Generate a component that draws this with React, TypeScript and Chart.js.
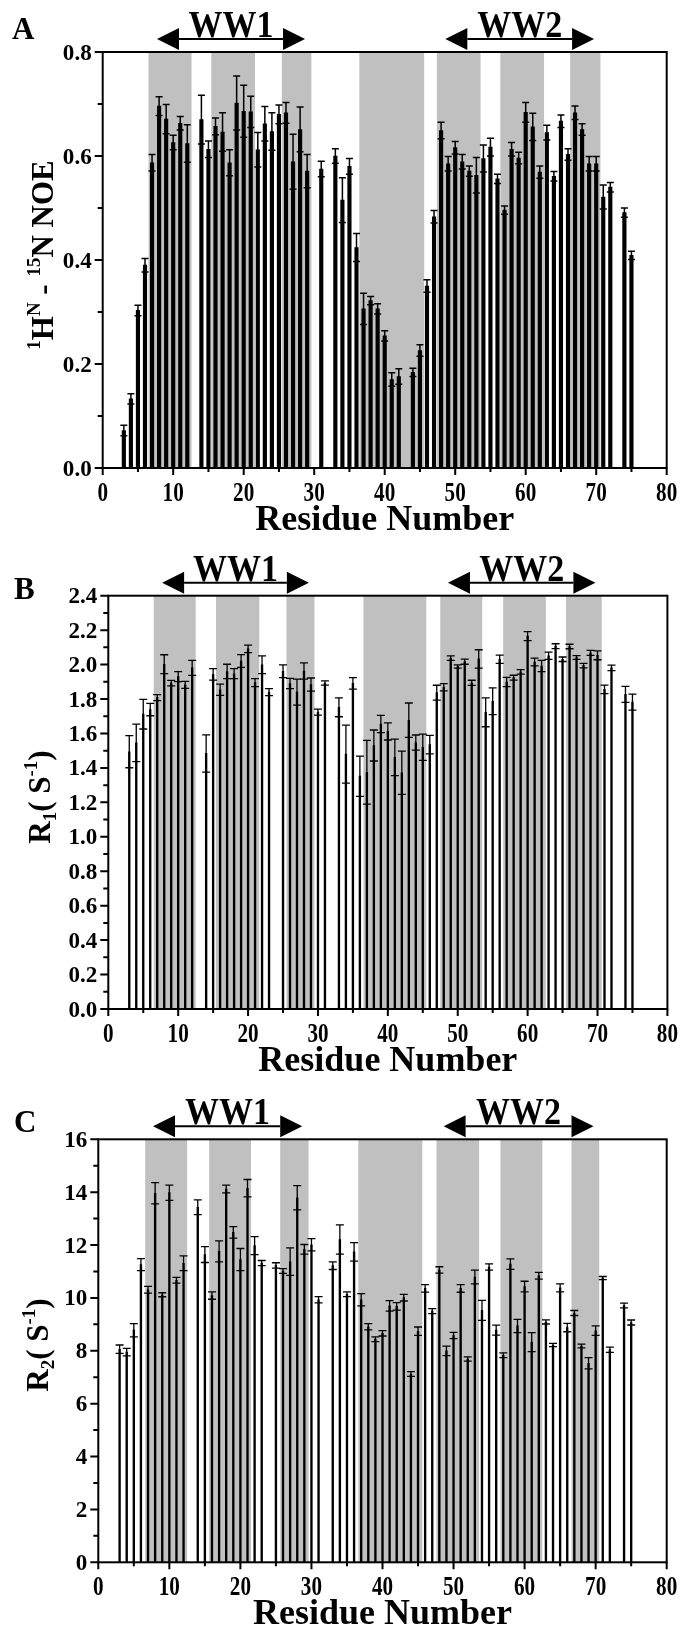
import React, { useEffect, useRef } from 'react';
import { Chart, registerables } from 'chart.js';

Chart.register(...registerables);

const FONT = '"Liberation Serif", "Times New Roman", serif';

// ---------- Data ----------
const residuesA = [3,4,5,6,7,8,9,10,11,12,14,15,16,17,18,19,20,21,22,23,24,25,26,27,28,29,31,33,34,35,36,37,38,39,40,41,42,44,45,46,47,48,49,50,51,52,53,54,55,56,57,58,59,60,61,62,63,64,65,66,67,68,69,70,71,72,74,75];
const noeValues = [0.072,0.133,0.303,0.39,0.587,0.696,0.671,0.626,0.663,0.624,0.67,0.613,0.657,0.646,0.587,0.702,0.686,0.685,0.612,0.662,0.647,0.68,0.683,0.589,0.651,0.571,0.575,0.6,0.515,0.58,0.424,0.306,0.322,0.306,0.254,0.17,0.176,0.184,0.226,0.35,0.483,0.649,0.585,0.616,0.589,0.571,0.563,0.595,0.617,0.556,0.496,0.613,0.596,0.684,0.656,0.569,0.645,0.561,0.667,0.603,0.683,0.651,0.585,0.585,0.521,0.54,0.491,0.409];
const noeErrors = [0.01,0.01,0.01,0.013,0.016,0.018,0.028,0.014,0.013,0.036,0.047,0.016,0.016,0.037,0.025,0.052,0.05,0.03,0.033,0.033,0.036,0.018,0.02,0.053,0.043,0.032,0.015,0.014,0.043,0.015,0.027,0.03,0.008,0.01,0.01,0.013,0.015,0.008,0.011,0.012,0.012,0.016,0.014,0.012,0.014,0.01,0.034,0.026,0.017,0.009,0.008,0.013,0.011,0.019,0.026,0.012,0.014,0.009,0.012,0.011,0.013,0.011,0.014,0.014,0.023,0.009,0.009,0.008];

const residuesBC = [3,4,5,6,7,8,9,10,11,12,14,15,16,17,18,19,20,21,22,23,25,26,27,28,29,30,31,33,34,35,36,37,38,39,40,41,42,43,44,45,46,47,48,49,50,51,52,53,54,55,56,57,58,59,60,61,62,63,64,65,66,67,68,69,70,71,72,74,75];
const r1Values = [1.494,1.545,1.712,1.739,1.808,2.002,1.892,1.93,1.882,1.981,1.484,1.943,1.854,1.96,1.947,2.021,2.091,1.895,1.999,1.84,1.961,1.89,1.84,1.963,1.884,1.724,1.893,1.752,1.48,1.891,1.352,1.375,1.53,1.655,1.612,1.461,1.372,1.677,1.547,1.52,1.535,1.837,1.868,2.037,1.989,2.017,1.894,2.033,1.723,1.787,2.031,1.899,1.924,1.958,2.165,2.015,1.992,2.051,2.107,2.031,2.105,2.041,1.994,2.068,2.054,1.856,1.981,1.827,1.782];
const r1Errors = [0.093,0.109,0.086,0.036,0.017,0.055,0.016,0.029,0.02,0.044,0.108,0.033,0.033,0.042,0.029,0.037,0.022,0.023,0.052,0.02,0.037,0.03,0.076,0.047,0.038,0.017,0.012,0.055,0.168,0.033,0.117,0.185,0.09,0.05,0.05,0.106,0.126,0.1,0.044,0.076,0.054,0.043,0.021,0.013,0.009,0.015,0.015,0.053,0.084,0.078,0.024,0.027,0.014,0.013,0.026,0.023,0.033,0.021,0.014,0.013,0.013,0.011,0.013,0.015,0.026,0.025,0.016,0.046,0.046];
const r2Values = [8.06,7.95,8.78,11.26,10.31,13.96,10.12,13.98,10.67,11.31,13.43,11.64,10.09,11.76,14.12,12.48,11.45,14.15,11.98,11.32,11.23,11.02,11.37,13.79,11.84,12.01,9.93,11.22,12.21,10.14,11.74,9.93,8.91,8.44,8.66,9.7,9.68,10.01,7.12,8.74,10.36,9.5,11.06,8.0,8.58,10.36,7.69,10.79,9.53,11.17,8.78,7.83,11.28,8.94,10.43,8.33,10.84,9.09,8.22,10.38,8.88,9.43,8.18,7.53,8.76,10.75,8.04,9.71,9.07];
const r2Errors = [0.16,0.145,0.25,0.23,0.126,0.4,0.076,0.29,0.11,0.28,0.28,0.3,0.14,0.4,0.145,0.22,0.42,0.33,0.34,0.095,0.1,0.088,0.52,0.46,0.18,0.23,0.12,0.145,0.55,0.09,0.35,0.23,0.12,0.09,0.1,0.2,0.14,0.126,0.09,0.16,0.14,0.095,0.12,0.18,0.12,0.145,0.08,0.26,0.38,0.12,0.19,0.09,0.2,0.25,0.2,0.36,0.13,0.076,0.063,0.15,0.16,0.095,0.07,0.21,0.18,0.06,0.1,0.09,0.095];

// shaded secondary-structure regions (residue ranges)
const shadingA = [[6.5,12.6],[15.4,21.6],[25.4,29.6],[36.4,45.6],[47.4,53.6],[56.4,62.6],[66.3,70.6]];
const shadingB = [[6.5,12.5],[15.4,21.6],[25.5,29.5],[36.5,45.5],[47.5,53.5],[56.5,62.6],[65.5,70.6]];
const shadingC = [[6.6,12.5],[15.6,21.5],[25.6,29.6],[36.6,45.6],[47.6,53.6],[56.6,62.5],[66.6,70.5]];

// domain arrows (residue ranges)
const domainNames = ['WW1', 'WW2'];
const domainRanges = [[7.7, 28.7], [48.6, 69.7]];

// ticks
const xMajor = [0,10,20,30,40,50,60,70,80];
const xMinor = [5,15,25,35,45,55,65,75];
const xLabels = ['0','10','20','30','40','50','60','70','80'];
const yMajorA = [0,0.2,0.4,0.6,0.8];
const yMinorA = [0.1,0.3,0.5,0.7];
const yLabelsA = ['0.0','0.2','0.4','0.6','0.8'];
const yMajorB = [0,0.2,0.4,0.6,0.8,1.0,1.2,1.4,1.6,1.8,2.0,2.2,2.4];
const yMinorB = [0.1,0.3,0.5,0.7,0.9,1.1,1.3,1.5,1.7,1.9,2.1,2.3];
const yLabelsB = ['0.0','0.2','0.4','0.6','0.8','1.0','1.2','1.4','1.6','1.8','2.0','2.2','2.4'];
const yMajorC = [0,2,4,6,8,10,12,14,16];
const yMinorC = [1,3,5,7,9,11,13,15];
const yLabelsC = ['0','2','4','6','8','10','12','14','16'];

type Part = { t: string; s: number; dy: number };

const titleA: Part[] = [
  { t: '1', s: 19, dy: -13 },
  { t: 'H', s: 31, dy: 0 },
  { t: 'N', s: 19, dy: -13 },
  { t: ' - ', s: 31, dy: 0 },
  { t: '15', s: 19, dy: -13 },
  { t: 'N NOE', s: 31, dy: 0 },
];
const titleB: Part[] = [
  { t: 'R', s: 31, dy: 0 },
  { t: '1', s: 19, dy: 6 },
  { t: '( S', s: 31, dy: 0 },
  { t: '-1', s: 19, dy: -13 },
  { t: ')', s: 31, dy: 0 },
];
const titleC: Part[] = [
  { t: 'R', s: 31, dy: 0 },
  { t: '2', s: 19, dy: 6 },
  { t: '( S', s: 31, dy: 0 },
  { t: '-1', s: 19, dy: -13 },
  { t: ')', s: 31, dy: 0 },
];

type Panel = {
  letter: string;
  letterPos: [number, number];
  canvasTop: number;
  canvasHeight: number;
  plot: { left: number; right: number; top: number; bottom: number };
  residues: number[];
  values: number[];
  errors: number[];
  yMax: number;
  yMajor: number[];
  yMinor: number[];
  yLabels: string[];
  shading: number[][];
  solid: boolean;
  title: Part[];
  titleX: number;
  titleY: number;
  titleStretch: number;
};

const panels: Panel[] = [
  {
    letter: 'A', letterPos: [12, 39], canvasTop: 0, canvasHeight: 545,
    plot: { left: 102.7, right: 666.7, top: 52, bottom: 468 },
    residues: residuesA, values: noeValues, errors: noeErrors,
    yMax: 0.8, yMajor: yMajorA, yMinor: yMinorA, yLabels: yLabelsA,
    shading: shadingA, solid: true, title: titleA, titleX: 53, titleY: 255, titleStretch: 1.0,
  },
  {
    letter: 'B', letterPos: [14, 599], canvasTop: 545, canvasHeight: 545,
    plot: { left: 108.3, right: 667.4, top: 595.7, bottom: 1009 },
    residues: residuesBC, values: r1Values, errors: r1Errors,
    yMax: 2.4, yMajor: yMajorB, yMinor: yMinorB, yLabels: yLabelsB,
    shading: shadingB, solid: false, title: titleB, titleX: 50, titleY: 797, titleStretch: 1.0,
  },
  {
    letter: 'C', letterPos: [14, 1132], canvasTop: 1090, canvasHeight: 538,
    plot: { left: 98.3, right: 666.7, top: 1139.3, bottom: 1562.3 },
    residues: residuesBC, values: r2Values, errors: r2Errors,
    yMax: 16, yMajor: yMajorC, yMinor: yMinorC, yLabels: yLabelsC,
    shading: shadingC, solid: false, title: titleC, titleX: 48, titleY: 1345, titleStretch: 1.0,
  },
];

function makePlugin(p: Panel) {
  const off = p.canvasTop;
  return {
    id: 'panel' + p.letter,
    beforeDatasetsDraw(chart: any) {
      const { ctx, chartArea: a, scales } = chart;
      const x = scales.x;
      ctx.save();
      ctx.fillStyle = '#c0c0c0';
      for (const [s, e] of p.shading) {
        const x1 = x.getPixelForValue(s);
        const x2 = x.getPixelForValue(e);
        ctx.fillRect(x1, a.top, x2 - x1, a.bottom - a.top);
      }
      ctx.restore();
    },
    afterDatasetsDraw(chart: any) {
      const { ctx, chartArea: a, scales } = chart;
      const x = scales.x;
      const y = scales.y;
      ctx.save();
      // error bars
      ctx.strokeStyle = '#000';
      ctx.lineWidth = p.solid ? 1.5 : 1.3;
      const cap = p.solid ? 3.5 : 4;
      p.residues.forEach((r, i) => {
        const px = x.getPixelForValue(r);
        const yHi = y.getPixelForValue(p.values[i] + p.errors[i]);
        const yLo = y.getPixelForValue(p.values[i] - p.errors[i]);
        ctx.beginPath();
        ctx.moveTo(px, yHi);
        ctx.lineTo(px, yLo);
        ctx.moveTo(px - cap, yHi);
        ctx.lineTo(px + cap, yHi);
        ctx.moveTo(px - cap, yLo);
        ctx.lineTo(px + cap, yLo);
        ctx.stroke();
      });

      // frame
      ctx.lineWidth = 2;
      ctx.strokeRect(a.left, a.top, a.right - a.left, a.bottom - a.top);

      // ticks
      ctx.beginPath();
      for (const v of xMajor) {
        const px = x.getPixelForValue(v);
        ctx.moveTo(px, a.bottom);
        ctx.lineTo(px, a.bottom + 7);
      }
      for (const v of xMinor) {
        const px = x.getPixelForValue(v);
        ctx.moveTo(px, a.bottom);
        ctx.lineTo(px, a.bottom + 4);
      }
      for (const v of p.yMajor) {
        const py = y.getPixelForValue(v);
        ctx.moveTo(a.left, py);
        ctx.lineTo(a.left - 8, py);
      }
      for (const v of p.yMinor) {
        const py = y.getPixelForValue(v);
        ctx.moveTo(a.left, py);
        ctx.lineTo(a.left - 5, py);
      }
      ctx.stroke();

      ctx.fillStyle = '#000';
      // x tick labels
      ctx.font = `bold 23px ${FONT}`;
      ctx.textAlign = 'center';
      ctx.textBaseline = 'alphabetic';
      xMajor.forEach((v, i) => {
        const px = x.getPixelForValue(v);
        ctx.save();
        ctx.translate(px, a.bottom + 33);
        ctx.scale(0.92, 1.2);
        ctx.fillText(xLabels[i], 0, 0);
        ctx.restore();
      });
      // y tick labels
      ctx.font = `bold 21px ${FONT}`;
      ctx.textAlign = 'right';
      p.yMajor.forEach((v, i) => {
        const py = y.getPixelForValue(v);
        ctx.save();
        ctx.translate(a.left - 11, py + 7.5);
        ctx.scale(1.1, 1.08);
        ctx.fillText(p.yLabels[i], 0, 0);
        ctx.restore();
      });

      // x title
      ctx.font = `bold 36px ${FONT}`;
      ctx.textAlign = 'center';
      ctx.fillText('Residue Number', (a.left + a.right) / 2, a.bottom + 62);

      // panel letter
      ctx.textAlign = 'left';
      ctx.font = `bold 31px ${FONT}`;
      ctx.fillText(p.letter, p.letterPos[0], p.letterPos[1] - off);

      // domain arrows
      const ly = a.top - 13;
      domainRanges.forEach(([s, e], i) => {
        const x1 = x.getPixelForValue(s);
        const x2 = x.getPixelForValue(e);
        const head = 22;
        ctx.lineWidth = 2;
        ctx.beginPath();
        ctx.moveTo(x1 + head, ly);
        ctx.lineTo(x2 - head, ly);
        ctx.stroke();
        ctx.beginPath();
        ctx.moveTo(x1, ly);
        ctx.lineTo(x1 + head, ly - 11);
        ctx.lineTo(x1 + head, ly + 11);
        ctx.closePath();
        ctx.moveTo(x2, ly);
        ctx.lineTo(x2 - head, ly - 11);
        ctx.lineTo(x2 - head, ly + 11);
        ctx.closePath();
        ctx.fill();
        ctx.save();
        ctx.font = `bold 34px ${FONT}`;
        ctx.textAlign = 'center';
        ctx.translate((x1 + x2) / 2, ly - 2);
        ctx.scale(1, 1.12);
        ctx.fillText(domainNames[i], 0, 0);
        ctx.restore();
      });

      // y title (rotated)
      ctx.save();
      ctx.translate(p.titleX, p.titleY - off);
      ctx.rotate(-Math.PI / 2);
      ctx.scale(p.titleStretch, 1);
      ctx.textAlign = 'left';
      let total = 0;
      const widths = p.title.map((part) => {
        ctx.font = `bold ${part.s}px ${FONT}`;
        const w = ctx.measureText(part.t).width;
        total += w;
        return w;
      });
      let cx = -total / 2;
      p.title.forEach((part, i) => {
        ctx.font = `bold ${part.s}px ${FONT}`;
        ctx.fillText(part.t, cx, part.dy);
        cx += widths[i];
      });
      ctx.restore();

      ctx.restore();
    },
  };
}

function PanelChart({ p }: { p: Panel }) {
  const ref = useRef<HTMLCanvasElement | null>(null);
  useEffect(() => {
    if (!ref.current) return;
    const chart = new Chart(ref.current, {
      type: 'bar',
      data: {
        datasets: [
          {
            data: p.residues.map((r, i) => ({ x: r, y: p.values[i] })),
            backgroundColor: '#000',
            borderWidth: 0,
            barThickness: p.solid ? 3.5 : 1.7,
          } as any,
        ],
      },
      options: {
        responsive: false,
        animation: false,
        devicePixelRatio: 1,
        events: [],
        layout: {
          padding: {
            left: p.plot.left,
            right: 682 - p.plot.right,
            top: p.plot.top - p.canvasTop,
            bottom: p.canvasTop + p.canvasHeight - p.plot.bottom,
          },
        },
        plugins: { legend: { display: false }, tooltip: { enabled: false }, title: { display: false } },
        scales: {
          x: { type: 'linear', min: 0, max: 80, display: false, offset: false },
          y: { type: 'linear', min: 0, max: p.yMax, display: false },
        },
      } as any,
      plugins: [makePlugin(p)],
    });
    return () => chart.destroy();
  }, [p]);
  return (
    <canvas
      ref={ref}
      width={682}
      height={p.canvasHeight}
      style={{ position: 'absolute', left: 0, top: p.canvasTop, width: 682, height: p.canvasHeight, display: 'block' }}
    />
  );
}

export default function App() {
  return (
    <div style={{ position: 'absolute', left: 0, top: 0, width: 682, height: 1628, background: '#fff' }}>
      {panels.map((p) => (
        <PanelChart key={p.letter} p={p} />
      ))}
    </div>
  );
}
